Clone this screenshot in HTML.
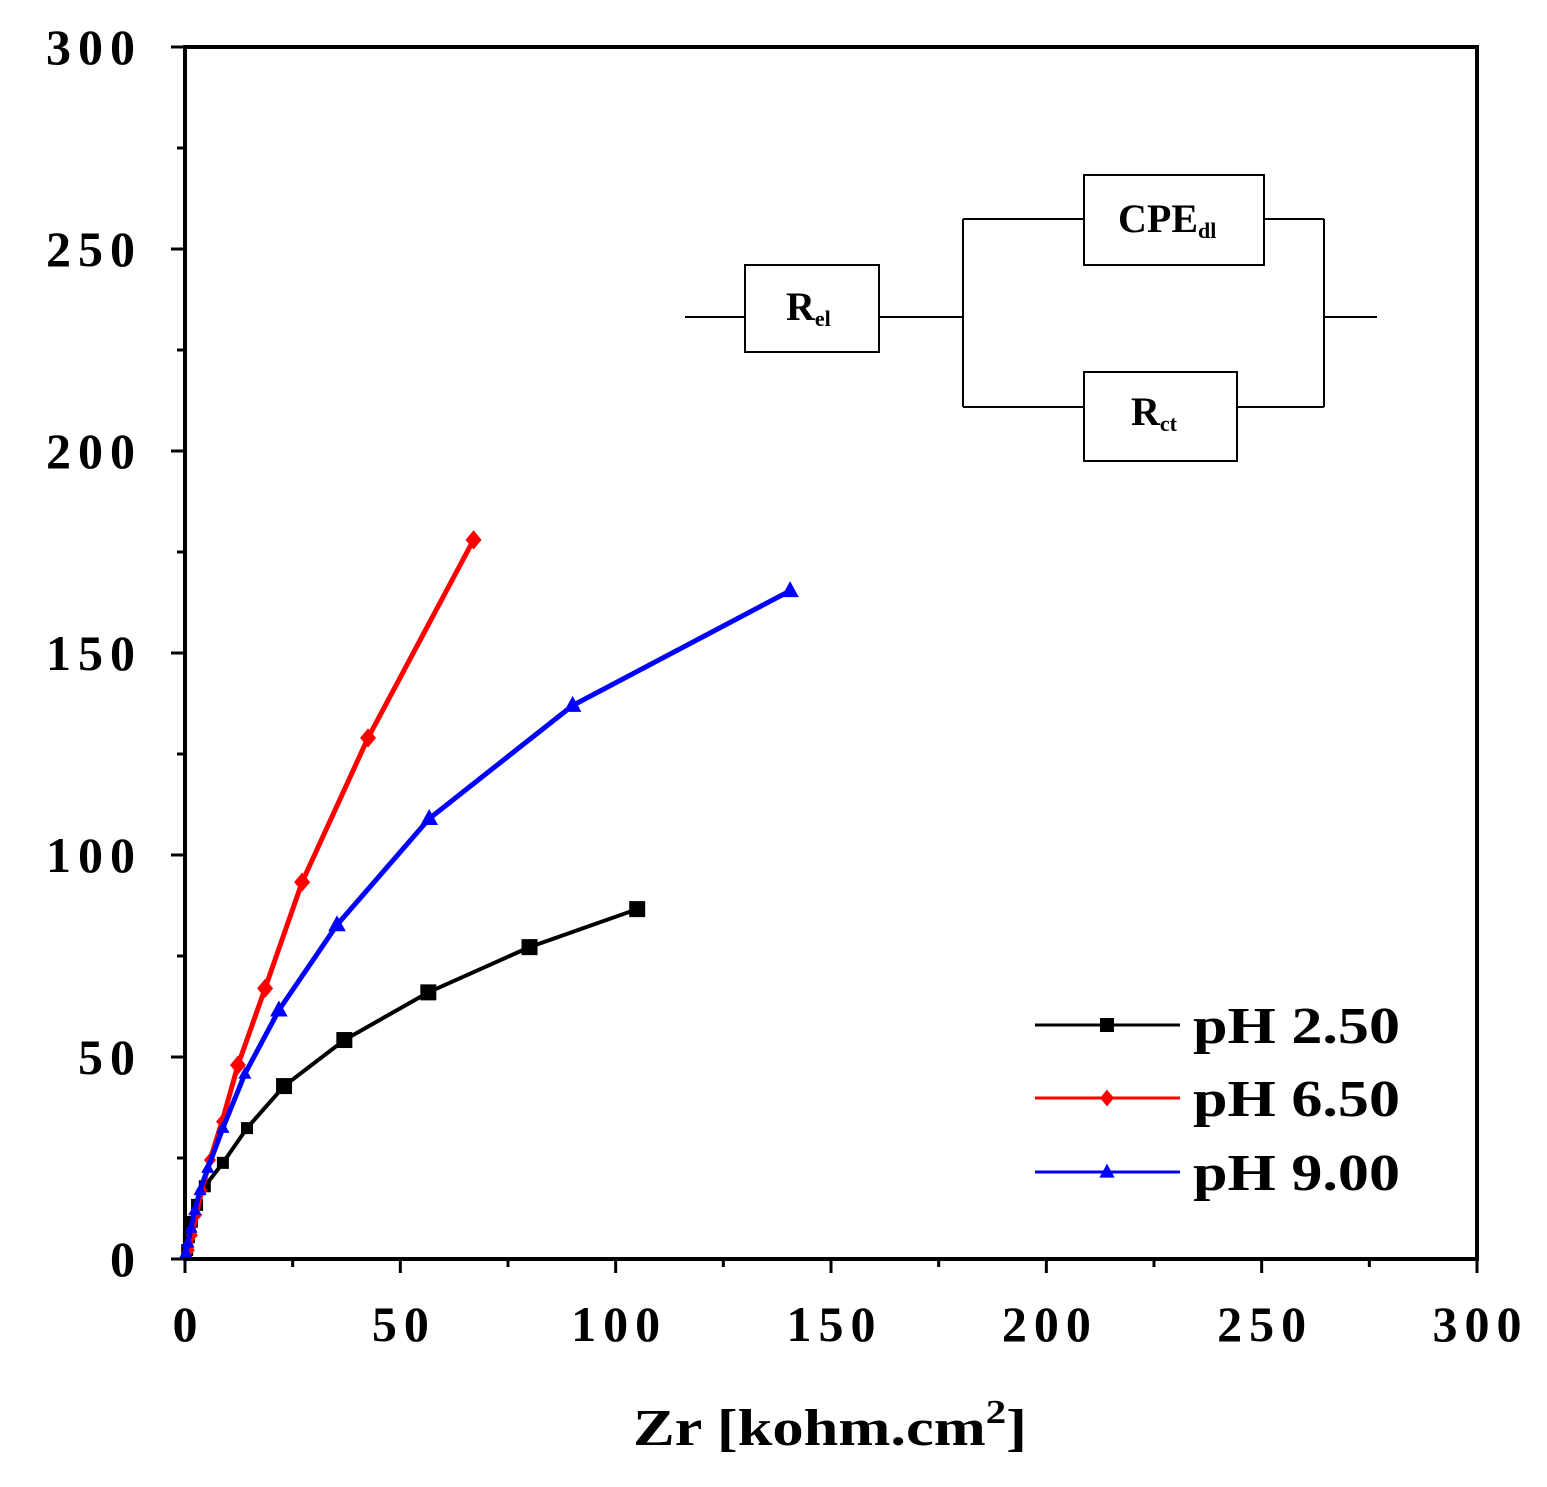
<!DOCTYPE html>
<html><head><meta charset="utf-8"><style>
body{margin:0;background:#fff;}
svg text{font-family:"Liberation Serif",serif;font-weight:bold;}
</style></head><body>
<svg id="c" width="1547" height="1482" viewBox="0 0 1547 1482" xmlns="http://www.w3.org/2000/svg">
<rect x="185" y="47" width="1292" height="1212" fill="none" stroke="#000" stroke-width="4"/>
<g id="ticks"></g>
<g id="series"></g>
<text x="633" y="1445" font-size="52" textLength="394" lengthAdjust="spacingAndGlyphs">Zr [kohm.cm<tspan font-size="34" dy="-22">2</tspan><tspan dy="22">]</tspan></text>
<g stroke="#000" stroke-width="2" fill="none">
<line x1="685" y1="317" x2="745" y2="317"/>
<rect x="745" y="265" width="134" height="87" fill="#fff"/>
<line x1="879" y1="317" x2="963" y2="317"/>
<line x1="963" y1="219" x2="963" y2="407"/>
<line x1="963" y1="219" x2="1084" y2="219"/>
<rect x="1084" y="175" width="180" height="90" fill="#fff"/>
<line x1="1264" y1="219" x2="1324" y2="219"/>
<line x1="963" y1="407" x2="1084" y2="407"/>
<rect x="1084" y="372" width="153" height="89" fill="#fff"/>
<line x1="1237" y1="407" x2="1324" y2="407"/>
<line x1="1324" y1="219" x2="1324" y2="407"/>
<line x1="1324" y1="317" x2="1377" y2="317"/>
</g>
<text x="786" y="320" font-size="40">R<tspan font-size="22" dy="6">el</tspan></text>
<text x="1118" y="232" font-size="40">CPE<tspan font-size="22" dy="6">dl</tspan></text>
<text x="1131" y="425" font-size="40">R<tspan font-size="22" dy="6">ct</tspan></text>
<g id="legend"></g>
</svg>
<script>
const xTicks=[0,50,100,150,200,250,300];
const yTicks=[0,50,100,150,200,250,300];
const seriesNames=["pH 2.50","pH 6.50","pH 9.00"];
const seriesColors=["#000","#f00","#00f"];
const blackX=[105,80,56.5,37,23,14.4,8.8,4.6,2.8,1.6,0.9,0.5];
const blackY=[86.6,77.2,66,54.2,42.8,32.4,23.8,18,13.4,9.2,5.4,2.2];
const redX=[67,42.5,27.2,18.6,12.3,8.6,5.8,3.9,2.6,1.6,0.9];
const redY=[178,129,93.3,67,48,34,24.5,17,10.9,5.9,2.2];
const blueX=[140.5,90,56.7,35.3,21.8,13.9,8.8,5.3,3.5,2.3,1.4,0.7,0.2];
const blueY=[165.4,137,109,82.7,61.6,45.8,32.4,22.5,17,12.1,7.7,4,1.5];
const NS="http://www.w3.org/2000/svg";
const sx=v=>185+v*1292/300, sy=v=>1259-v*1212/300;
function mk(t,a,p){const e=document.createElementNS(NS,t);for(const k in a)e.setAttribute(k,a[k]);p.appendChild(e);return e;}
const tg=document.getElementById('ticks');
for(let v=0;v<=300;v+=25){
 const maj=v%50===0;
 let l=mk('line',{x1:sx(v),x2:sx(v),y1:1259,y2:1259+(maj?14:8),stroke:'#000','stroke-width':3},tg);
 
 
 l=mk('line',{y1:sy(v),y2:sy(v),x1:185,x2:185-(maj?14:8),stroke:'#000','stroke-width':3},tg);
 
 
}
xTicks.forEach(v=>{const t=mk('text',{x:sx(v)+3.5,y:1341,'font-size':50,'text-anchor':'middle','letter-spacing':7},tg);t.textContent=v;
 
 });
yTicks.forEach(v=>{const t=mk('text',{x:142,y:sy(v)+17,'font-size':50,'text-anchor':'end','letter-spacing':7},tg);t.textContent=v;
 
 });
const sg=document.getElementById('series');
function marker(kind,x,y,c,p,s){
 if(kind===0)return mk('rect',{x:x-s,y:y-s,width:2*s,height:2*s,fill:c},p);
 if(kind===1)return mk('polygon',{points:`${x},${y-s*1.2} ${x+s},${y} ${x},${y+s*1.2} ${x-s},${y}`,fill:c},p);
 return mk('polygon',{points:`${x},${y-s*1.2} ${x+s*1.1},${y+s*0.8} ${x-s*1.1},${y+s*0.8}`,fill:c},p);
}
[[blackX,blackY],[redX,redY],[blueX,blueY]].forEach((d,i)=>{
 const g=mk('g',{},sg);
 
 
 const pts=d[0].map((x,j)=>sx(x)+','+sy(d[1][j])).join(' ');
 mk('polyline',{points:pts,fill:'none',stroke:seriesColors[i],'stroke-width':i===0?4:5},g);
 d[0].forEach((x,j)=>{const m=marker(i,sx(x),sy(d[1][j]),seriesColors[i],g,j<5?8:6);
  
  });
});
const lg=document.getElementById('legend');
[1025,1098,1172].forEach((y,i)=>{
 const g=mk('g',{},lg);
 
 
 mk('line',{x1:1035,x2:1180,y1:y,y2:y,stroke:seriesColors[i],'stroke-width':3},g);
 marker(i,1107,y,seriesColors[i],g,7);
 const t=mk('text',{x:1193,y:y+18,'font-size':52,textLength:207,lengthAdjust:'spacingAndGlyphs'},g);t.textContent=seriesNames[i];
});
</script>
</body></html>
